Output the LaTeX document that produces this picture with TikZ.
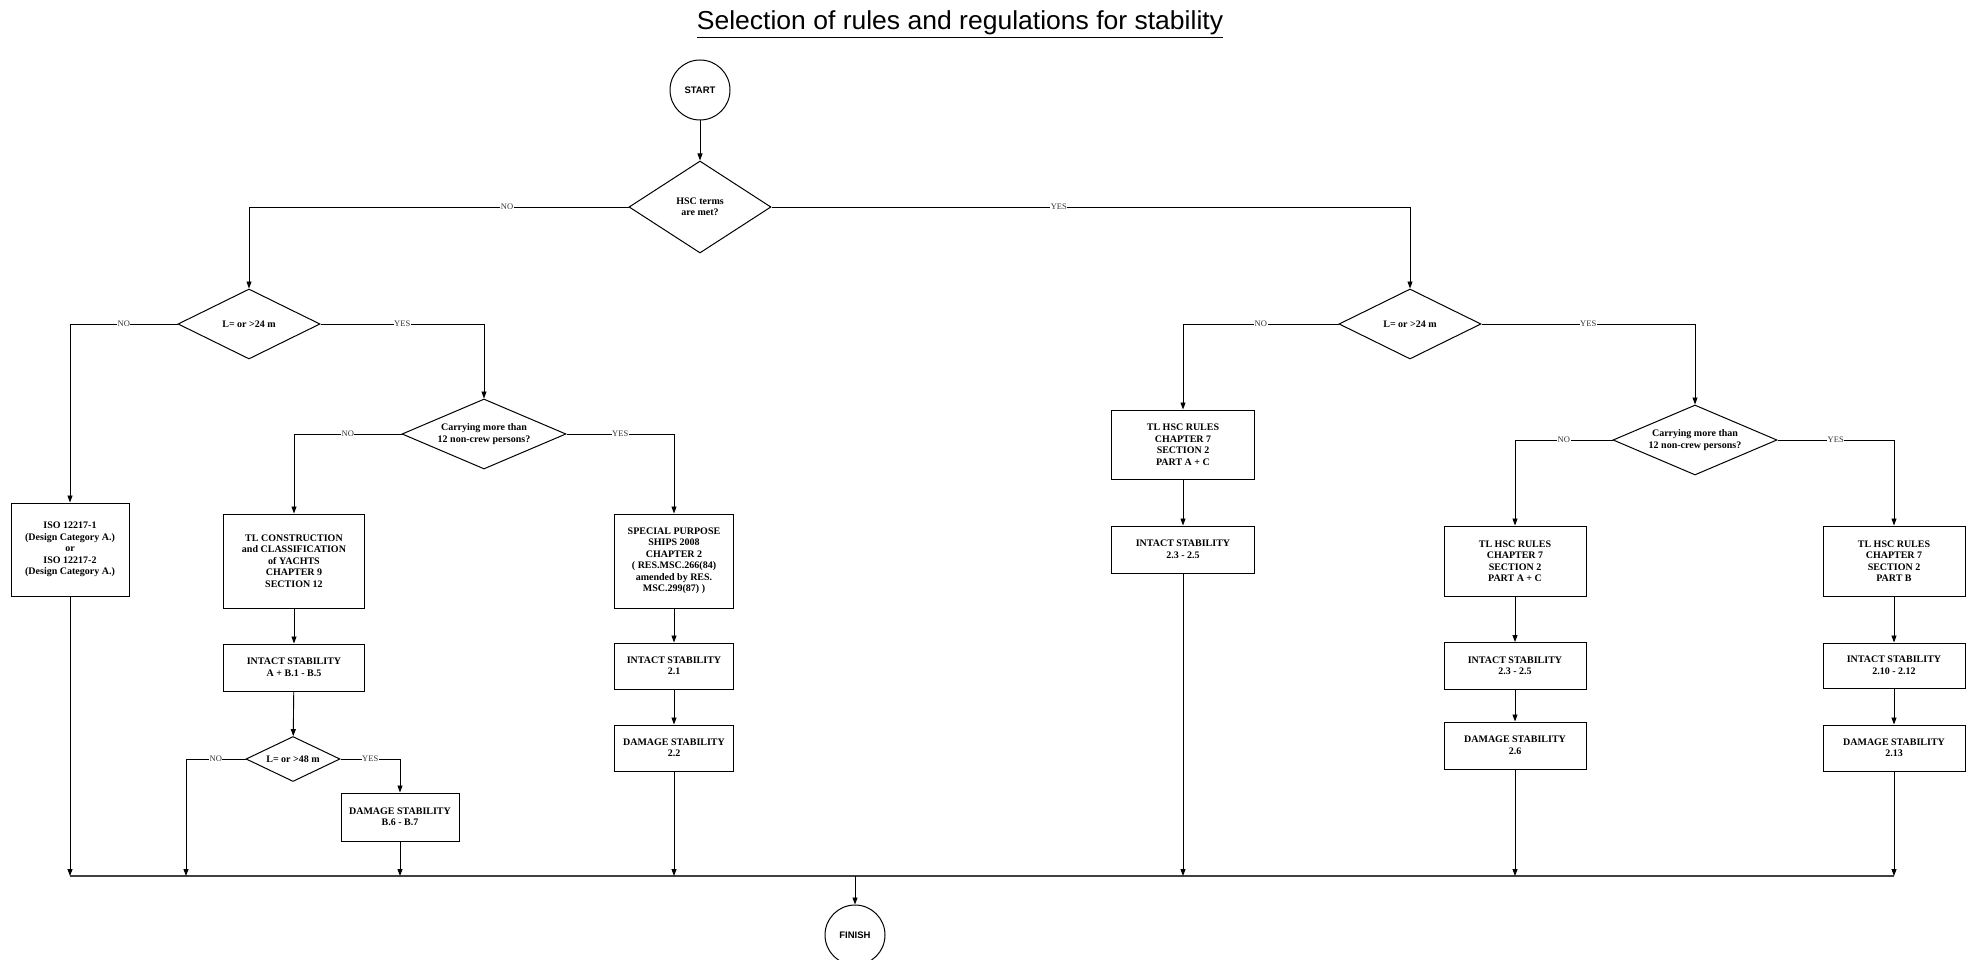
\documentclass[tikz,border=0pt]{standalone}
\usepackage{fontspec}
\setmainfont{Liberation Serif}
\newfontfamily\arialfont{Liberation Sans}
\usetikzlibrary{shapes.geometric,arrows.meta}

\tikzset{
  caja/.style={draw, line width=1pt, align=center, inner sep=1pt,
    font=\bfseries\fontsize{10}{11.5}\selectfont},
  rombo/.style={draw, diamond, shape aspect=2, line width=1pt, align=center,
    inner sep=0pt, font=\bfseries\fontsize{10}{11.5}\selectfont},
  terminal/.style={draw, circle, minimum size=60pt, inner sep=0pt, line width=1pt,
    font=\arialfont\bfseries\fontsize{9.5}{10}\selectfont},
  flecha/.style={-{Triangle[length=7pt,width=5pt]}, line width=0.9pt},
  etiq/.style={fill=white, inner sep=0.6pt, text=black!80,
    font=\fontsize{8.5}{9}\selectfont},
  bus/.style={line width=1.8pt, black!75}
}

\begin{document}
\begin{tikzpicture}[x=1pt,y=-1pt]
  \useasboundingbox (0,0) rectangle (1971,960);

  % Titulo
  \node[anchor=base, font=\arialfont\fontsize{26}{28}\selectfont] (titulo) at (960,30)
    {\scalebox{1.02}[1]{\underline{Selection of rules and regulations for stability}}};

  % Inicio y primera pregunta
  \node[terminal] (start) at (700,90) {START};
  \node[rombo, minimum width=142pt, minimum height=92pt] (hsc) at (700,207) {HSC terms\\are met?};
  \draw[flecha] (start) -- (hsc);

  % Rama NO (no HSC)
  \node[rombo, minimum width=142pt, minimum height=70pt] (lizq) at (249,324) {L= or >24 m};
  \node[rombo, minimum width=164pt, minimum height=70pt] (cizq) at (484,434) {Carrying more than\\12 non-crew persons?};
  \node[caja, minimum width=118pt, minimum height=93pt] (iso) at (70,549.5)
    {ISO 12217-1\\(Design Category A.)\\or\\ISO 12217-2\\(Design Category A.)};
  \node[caja, minimum width=141pt, minimum height=94pt] (tlyat) at (294,561)
    {TL CONSTRUCTION\\and CLASSIFICATION\\of YACHTS\\CHAPTER 9\\SECTION 12};
  \node[caja, minimum width=141pt, minimum height=47pt] (intab) at (294,667.5)
    {INTACT STABILITY\\A + B.1 - B.5};
  \node[rombo, minimum width=94pt, minimum height=45pt] (l48) at (293,759) {L= or >48 m};
  \node[caja, minimum width=118pt, minimum height=48pt] (danb) at (400,817)
    {DAMAGE STABILITY\\B.6 - B.7};
  \node[caja, minimum width=119pt, minimum height=94pt] (spec) at (674,561)
    {SPECIAL PURPOSE\\SHIPS 2008\\CHAPTER 2\\( RES.MSC.266(84)\\amended by RES.\\MSC.299(87) )};
  \node[caja, minimum width=119pt, minimum height=46pt] (int21) at (674,666)
    {INTACT STABILITY\\2.1};
  \node[caja, minimum width=119pt, minimum height=46pt] (dan22) at (674,748)
    {DAMAGE STABILITY\\2.2};

  % Rama YES (HSC)
  \node[rombo, minimum width=142pt, minimum height=70pt] (lder) at (1410,324) {L= or >24 m};
  \node[rombo, minimum width=164pt, minimum height=70pt] (cder) at (1695,440) {Carrying more than\\12 non-crew persons?};
  \node[caja, minimum width=143pt, minimum height=69pt] (hscm) at (1183,444.5)
    {TL HSC RULES\\CHAPTER 7\\SECTION 2\\PART A + C};
  \node[caja, minimum width=143pt, minimum height=47pt] (intm) at (1183,549.5)
    {INTACT STABILITY\\2.3 - 2.5};
  \node[caja, minimum width=142pt, minimum height=70pt] (hscac) at (1515,561)
    {TL HSC RULES\\CHAPTER 7\\SECTION 2\\PART A + C};
  \node[caja, minimum width=142pt, minimum height=47pt] (int23) at (1515,666)
    {INTACT STABILITY\\2.3 - 2.5};
  \node[caja, minimum width=142pt, minimum height=47pt] (dan26) at (1515,745.5)
    {DAMAGE STABILITY\\2.6};
  \node[caja, minimum width=142pt, minimum height=70pt] (hscb) at (1894,561)
    {TL HSC RULES\\CHAPTER 7\\SECTION 2\\PART B};
  \node[caja, minimum width=142pt, minimum height=45pt] (int210) at (1894,665.5)
    {INTACT STABILITY\\2.10 - 2.12};
  \node[caja, minimum width=142pt, minimum height=46pt] (dan213) at (1894,748)
    {DAMAGE STABILITY\\2.13};

  \node[terminal] (finish) at (855,935) {FINISH};

  % Decisiones
  \draw[flecha] (hsc.west) -| node[etiq, pos=0.16] {NO} (lizq.north);
  \draw[flecha] (hsc.east) -| node[etiq, pos=0.225] {YES} (lder.north);
  \draw[flecha] (lizq.west) -| node[etiq, pos=0.25] {NO} (iso.north);
  \draw[flecha] (lizq.east) -| node[etiq, pos=0.25] {YES} (cizq.north);
  \draw[flecha] (cizq.west) -| node[etiq, pos=0.25] {NO} (tlyat.north);
  \draw[flecha] (cizq.east) -| node[etiq, pos=0.25] {YES} (spec.north);
  \draw[flecha] (l48.east) -| node[etiq, pos=0.25] {YES} (danb.north);
  \draw[flecha] (lder.west) -| node[etiq, pos=0.25] {NO} (hscm.north);
  \draw[flecha] (lder.east) -| node[etiq, pos=0.25] {YES} (cder.north);
  \draw[flecha] (cder.west) -| node[etiq, pos=0.25] {NO} (hscac.north);
  \draw[flecha] (cder.east) -| node[etiq, pos=0.25] {YES} (hscb.north);

  % Secuencias
  \draw[flecha] (tlyat) -- (intab);
  \draw[flecha] (intab) -- (l48);
  \draw[flecha] (spec) -- (int21);
  \draw[flecha] (int21) -- (dan22);
  \draw[flecha] (hscm) -- (intm);
  \draw[flecha] (hscac) -- (int23);
  \draw[flecha] (int23) -- (dan26);
  \draw[flecha] (hscb) -- (int210);
  \draw[flecha] (int210) -- (dan213);

  % Linea colectora y final
  \coordinate (bus) at (0,876);
  \coordinate (nob) at (186,876);
  \draw[bus] (iso.south |- bus) -- (hscb.south |- bus);
  \draw[flecha] (iso) -- (iso |- bus);
  \draw[flecha] (l48.west) -| node[etiq, pos=0.25] {NO} (nob);
  \draw[flecha] (danb) -- (danb |- bus);
  \draw[flecha] (dan22) -- (dan22 |- bus);
  \draw[flecha] (intm) -- (intm |- bus);
  \draw[flecha] (dan26) -- (dan26 |- bus);
  \draw[flecha] (dan213) -- (dan213 |- bus);
  \draw[flecha] (finish |- bus) -- (finish);
\end{tikzpicture}
\end{document}
